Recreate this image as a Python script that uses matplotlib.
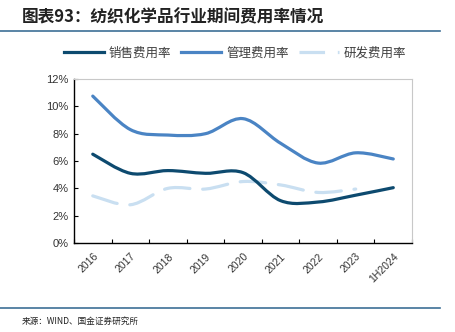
import numpy as np
import matplotlib.pyplot as plt
from matplotlib.path import Path
from matplotlib.patches import PathPatch
from matplotlib.lines import Line2D

plt.rcParams['font.family'] = ['Noto Sans CJK SC', 'DejaVu Sans']

# ------------------------------
# Data (%)
# ------------------------------
years = ["2016", "2017", "2018", "2019", "2020", "2021", "2022", "2023", "1H2024"]
sales_rate = [6.5, 5.1, 5.3, 5.1, 5.15, 3.1, 3.0, 3.5, 4.05]
admin_rate = [10.75, 8.3, 7.9, 8.0, 9.1, 7.3, 5.85, 6.6, 6.15]
rd_rate = [3.45, 2.8, 4.0, 3.95, 4.5, 4.25, 3.7, 3.95]

c_sales = "#0d4a6f"
c_admin = "#4a84c4"
c_rd = "#c9dff1"


def smooth_path(xs, ys):
    # Catmull-Rom style bezier, like a spreadsheet "smoothed line"
    pts = np.column_stack([xs, ys]).astype(float)
    n = len(pts)
    verts = [pts[0]]
    codes = [Path.MOVETO]
    for i in range(n - 1):
        p0 = pts[max(i - 1, 0)]
        p1 = pts[i]
        p2 = pts[i + 1]
        p3 = pts[min(i + 2, n - 1)]
        c1 = p1 + (p2 - p0) / 6.0
        c2 = p2 - (p3 - p1) / 6.0
        verts += [c1, c2, p2]
        codes += [Path.CURVE4] * 3
    return Path(verts, codes)


fig = plt.figure(figsize=(4.55, 3.32), dpi=100)
ax = fig.add_axes([0.1626, 0.268, 0.743, 0.494])

x = np.arange(len(years))
for vals, col, ls in [(rd_rate, c_rd, (0, (8, 4))),
                      (admin_rate, c_admin, "-"),
                      (sales_rate, c_sales, "-")]:
    xs = x[:len(vals)]
    patch = PathPatch(smooth_path(xs, vals), facecolor="none", edgecolor=col,
                      lw=2.3, linestyle=ls, capstyle="round", joinstyle="round")
    ax.add_patch(patch)

ax.set_xlim(-0.5, len(years) - 0.5)
ax.set_ylim(0, 12)
ax.set_yticks(np.arange(0, 13, 2))
ax.set_yticklabels([f"{v}%" for v in range(0, 13, 2)], family="Liberation Sans",
                   fontsize=8, color="#333333")
ax.set_xticks(np.arange(-0.5, len(years), 1.0))
ax.set_xticklabels([])
ax.set_xticks(x, minor=True)
ax.set_xticklabels(years, minor=True, rotation=45, ha="right", rotation_mode="anchor",
                   family="Liberation Sans", fontsize=7.5, color="#333333")
ax.tick_params(axis="x", which="major", direction="in", length=3, width=0.8)
ax.tick_params(axis="x", which="minor", length=0, pad=6)
ax.tick_params(axis="y", direction="in", length=3, width=0.8, pad=4)

for s in ["top", "right"]:
    ax.spines[s].set_color("#c8c8c8")
    ax.spines[s].set_linewidth(0.8)
for s in ["left", "bottom"]:
    ax.spines[s].set_color("black")
    ax.spines[s].set_linewidth(1.0)

# legend
handles = [Line2D([], [], color=c_sales, lw=2.3),
           Line2D([], [], color=c_admin, lw=2.3),
           Line2D([], [], color=c_rd, lw=2.3, linestyle=(0, (8, 4)))]
fig.legend(handles, ["销售费用率", "管理费用率", "研发费用率"], loc="center",
           bbox_to_anchor=(235 / 455, 1 - 53 / 332), ncol=3, frameon=False,
           fontsize=9, handlelength=3.2, columnspacing=0.8, handletextpad=0.4,
           labelcolor="#404040")

# header / footer
fig.text(22 / 455, 1 - 17 / 332, "图表93：纺织化学品行业期间费用率情况",
         fontsize=12, fontweight="bold", va="center", ha="left", color="#222222")
fig.add_artist(Line2D([0, 440 / 455], [1 - 31 / 332] * 2, color="#3d6f96", lw=1.2))
fig.add_artist(Line2D([0, 440 / 455], [1 - 308 / 332] * 2, color="#3d6f96", lw=1.2))
fig.text(22 / 455, 1 - 321 / 332, "来源：WIND、国金证券研究所",
         fontsize=6.2, va="center", ha="left", color="#222222")

fig.savefig("out.png", dpi=100)
